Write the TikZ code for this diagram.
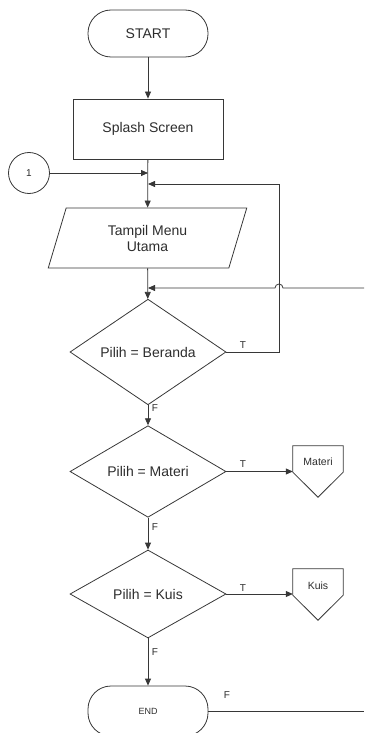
\documentclass[tikz,border=0pt]{standalone}
\usepackage{fontspec}
\setmainfont{Liberation Sans}
\usetikzlibrary{shapes.geometric,arrows.meta,calc}
\definecolor{ink}{RGB}{55,55,55}
\definecolor{txt}{RGB}{45,45,45}
\begin{document}
\begin{tikzpicture}[x=1pt,y=1pt,
  every node/.style={text=txt, font=\fontsize{14}{16}\selectfont},
  base/.style={draw=ink, line width=0.8pt},
  terminal/.style={base, rectangle, rounded corners=23pt, minimum width=120pt, inner sep=0pt},
  process/.style={base, rectangle, minimum width=150pt, minimum height=60pt, inner sep=0pt},
  io/.style={base, trapezium, trapezium left angle=71.6, trapezium right angle=108.4,
    trapezium stretches=true, minimum width=199pt, minimum height=60pt, inner sep=0pt, align=center},
  decision/.style={base, diamond, minimum width=156pt, minimum height=88pt, inner sep=0pt},
  connector/.style={base, circle, minimum size=41pt, inner sep=0pt, font=\fontsize{10}{12}\selectfont},
  offtext/.style={rectangle, minimum width=50pt, minimum height=26pt, inner sep=0pt, font=\fontsize{10.5}{12}\selectfont},
  flow/.style={draw=ink, line width=0.8pt, -{Triangle[length=7pt,width=6pt]}},
  line/.style={draw=ink, line width=0.8pt},
  tag/.style={font=\fontsize{10}{12}\selectfont}
]
\useasboundingbox (0,0) rectangle (364,-733);

% main column
\node[terminal, minimum height=47pt] (start) at (148,-33.5) {START};
\node[process] (splash) at (148,-129) {Splash Screen};
\node[connector] (c1) at (29,-173) {1};
\node[io] (menu) at (147.5,-238) {Tampil Menu\\Utama};
\node[decision] (beranda) at (148,-352) {Pilih = Beranda};
\node[decision, minimum height=87pt] (materi) at (148,-471.5) {Pilih = Materi};
\node[decision] (kuis) at (148,-594) {Pilih = Kuis};
\node[terminal, minimum height=50pt, font=\fontsize{9}{11}\selectfont] (end) at (148,-711) {END};

% off-page references
\node[offtext] (offm) at (318,-459) {};
\node[offtext] (offk) at (318,-582) {};
\node[offtext] at (318,-462) {Materi};
\node[offtext] at (318,-586) {Kuis};
\draw[base] (offm.north west) -- (offm.north east) -- (offm.south east)
  -- ($(offm.south)+(0,-25)$) -- (offm.south west) -- cycle;
\draw[base] (offk.north west) -- (offk.north east) -- (offk.south east)
  -- ($(offk.south)+(0,-25)$) -- (offk.south west) -- cycle;

% junction points
\coordinate (j1) at (148,-173);
\coordinate (j2) at (148,-184);
\coordinate (j3) at (148,-288);
\coordinate (loopR) at (279,-184);
\coordinate (bR) at (279,-352);
\coordinate (inR) at (364,-288);
\coordinate (outR) at (364,-710);
\coordinate (hopR) at (283,-288);

% connectors
\draw[flow] (start) -- (splash);
\draw[flow] (splash) -- (menu);
\draw[flow] (c1) -- (j1);
\draw[flow] (beranda.east) -- (bR) -- (loopR) -- (j2);
\draw[flow] (inR) -- (hopR) arc[start angle=0, end angle=180, radius=4] -- (j3);
\draw[flow] (menu) -- (beranda);
\draw[flow] (beranda) -- (materi);
\draw[flow] (materi.east) -- (materi.east -| offm.west);
\draw[flow] (materi) -- (kuis);
\draw[flow] (kuis.east) -- (kuis.east -| offk.west);
\draw[flow] (kuis) -- (end);
\draw[line] (end.east) -- (end.east -| outR);

% branch labels
\node[tag] at (243,-345) {T};
\node[tag] at (243,-464) {T};
\node[tag] at (243,-588) {T};
\node[tag] at (155,-408) {F};
\node[tag] at (155,-527) {F};
\node[tag] at (155,-652) {F};
\node[tag] at (227,-695) {F};
\end{tikzpicture}
\end{document}
